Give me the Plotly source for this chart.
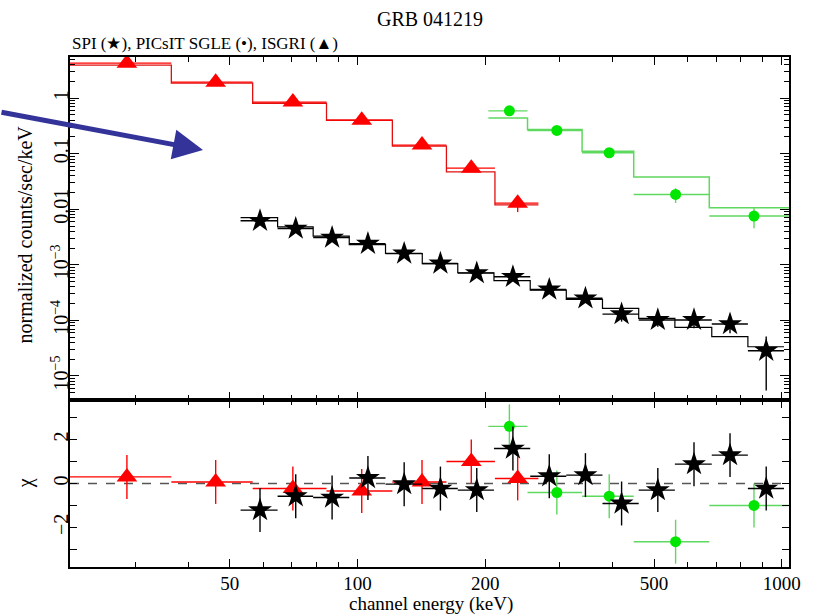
import numpy as np
import plotly.graph_objects as go
from plotly.subplots import make_subplots

# ---- ISGRI (triangles) ----
isgri_lo = [20.0, 36.4, 56.6, 84.5, 120.8, 162.0, 210.8]
isgri_hi = [36.4, 56.6, 84.5, 120.8, 162.0, 210.8, 266.9]
isgri_e = [28.6, 46.3, 70.4, 102.3, 141.9, 185.4, 238.5]
isgri_flux = [4.26, 1.94, 0.848, 0.402, 0.143, 0.055, 0.0129]
isgri_err = [0.12, 0.07, 0.04, 0.025, 0.012, 0.008, 0.004]
isgri_model = [3.92, 1.86, 0.81, 0.40, 0.137, 0.047, 0.012]
isgri_chi = [0.3, 0.07, -0.23, -0.34, 0.07, 1.0, 0.23]

# ---- PICsIT SGLE (circles) ----
picsit_lo = [203.4, 251.6, 338.3, 447.7, 674.8]
picsit_hi = [251.6, 338.3, 447.7, 674.8, 1100.0]
picsit_e = [228, 295, 392, 562, 860]
picsit_flux = [0.591, 0.262, 0.104, 0.0185, 0.00755]
picsit_err = [0.059, 0.03, 0.012, 0.0055, 0.003]
picsit_model = [0.437, 0.274, 0.111, 0.0379, 0.0106]
picsit_chi = [2.6, -0.41, -0.58, -2.65, -1.0]

# ---- SPI (stars) ----
spi_edges = [53.0, 64.8, 78.6, 95.6, 116.4, 142.1, 172.3, 209.7, 255.3,
             310.5, 377.9, 460.0, 559.8, 683.9, 832.0, 1012.0]
spi_e = [58.9, 71.5, 87.1, 105.8, 128.8, 156.8, 191, 232.4, 283.1,
         344.5, 419.2, 510.3, 621, 755.1, 919]
spi_flux = [6.2e-3, 4.5e-3, 3.1e-3, 2.4e-3, 1.6e-3, 1.06e-3, 7.1e-4, 6.1e-4,
            3.6e-4, 2.5e-4, 1.3e-4, 1.02e-4, 1.02e-4, 8.6e-5, 2.85e-5]
spi_err = [5.5e-4, 4.5e-4, 3.1e-4, 2.4e-4, 1.8e-4, 1.3e-4, 9e-5, 8e-5,
           5.5e-5, 4.5e-5, 3.5e-5, 2.5e-5, 3e-5, 2.7e-5, 2.3e-5]
spi_model = [7.06e-3, 4.84e-3, 3.30e-3, 2.32e-3, 1.6e-3, 1.05e-3, 7.2e-4, 5.2e-4,
             3.52e-4, 2.4e-4, 1.65e-4, 1.09e-4, 7.5e-5, 5.1e-5, 3.36e-5]
spi_chi = [-1.21, -0.58, -0.64, 0.25, -0.03, -0.23, -0.3, 1.59, 0.33, 0.38,
           -0.91, -0.3, 0.88, 1.29, -0.23]

x_ticks = [50, 100, 200, 500, 1000]
x_minor = [30, 40, 60, 70, 80, 90, 300, 400, 600, 700, 800, 900]
y_ticks = [1e-5, 1e-4, 1e-3, 0.01, 0.1, 1]
y_ticktext = ["10<sup>\u22125</sup>", "10<sup>\u22124</sup>", "10<sup>\u22123</sup>",
              "0.01", "0.1", "1"]

FONT = "Liberation Serif"
FS = 20
RED = "#ff0000"
GREEN = "#00e600"
GREEN_LINE = "#5fd85f"
BLACK = "#000000"

fig = make_subplots(rows=2, cols=1, shared_xaxes=True, vertical_spacing=0,
                    row_heights=[0.6725, 0.3275])


def bins_from(lo, hi, centre):
    lo, hi, c = np.array(lo), np.array(hi), np.array(centre)
    return c - lo, hi - c


def step(edges, model, color, width, row=1):
    fig.add_trace(go.Scatter(x=list(edges), y=list(model) + [model[-1]],
                             mode="lines", line=dict(color=color, width=width, shape="hv"),
                             showlegend=False, hoverinfo="skip"), row=row, col=1)


def points(x, y, xm, xp, ey, symbol, size, mcolor, ecolor, row):
    fig.add_trace(go.Scatter(
        x=x, y=y, mode="markers",
        marker=dict(symbol=symbol, size=size, color=mcolor, line=dict(width=0)),
        error_x=dict(type="data", symmetric=False, array=list(xp), arrayminus=list(xm),
                     color=ecolor, thickness=1.4, width=0),
        error_y=dict(type="data", array=list(ey), color=ecolor, thickness=1.4, width=0),
        showlegend=False), row=row, col=1)


# model histograms
step(isgri_lo + [isgri_hi[-1]], isgri_model, "#e01010", 1.3)
step(picsit_lo + [picsit_hi[-1]], picsit_model, GREEN_LINE, 1.5)
step(spi_edges, spi_model, BLACK, 1.2)

isgri_xm, isgri_xp = bins_from(isgri_lo, isgri_hi, isgri_e)
picsit_xm, picsit_xp = bins_from(picsit_lo, picsit_hi, picsit_e)
spi_xm, spi_xp = bins_from(spi_edges[:-1], spi_edges[1:], spi_e)

# spectra
points(isgri_e, isgri_flux, isgri_xm, isgri_xp, isgri_err, "triangle-up", 18, RED, RED, 1)
points(picsit_e, picsit_flux, picsit_xm, picsit_xp, picsit_err, "circle", 11, GREEN, GREEN_LINE, 1)
points(spi_e, spi_flux, spi_xm, spi_xp, spi_err, "star", 18, BLACK, BLACK, 1)

# residuals
fig.add_trace(go.Scatter(x=[21, 1040], y=[0, 0], mode="lines",
                         line=dict(color="#555555", width=1.3, dash="dash"),
                         showlegend=False, hoverinfo="skip"), row=2, col=1)
points(isgri_e, isgri_chi, isgri_xm, isgri_xp, [1] * len(isgri_e), "triangle-up", 18, RED, RED, 2)
points(picsit_e, picsit_chi, picsit_xm, picsit_xp, [1] * len(picsit_e), "circle", 11, GREEN, GREEN_LINE, 2)
points(spi_e, spi_chi, spi_xm, spi_xp, [1] * len(spi_e), "star", 18, BLACK, BLACK, 2)

axis_common = dict(showline=True, linecolor="black", linewidth=1.5, mirror="allticks",
                   ticks="inside", tickcolor="black", tickwidth=1, showgrid=False,
                   zeroline=False)

x_range = [np.log10(21.0), np.log10(1040.0)]
fig.update_xaxes(type="log", range=x_range, tickvals=x_ticks, ticktext=[str(v) for v in x_ticks],
                 ticklen=8, ticklabelstandoff=-2,
                 tickfont=dict(family=FONT, size=19, color="black"),
                 minor=dict(tickvals=x_minor, ticklen=5, ticks="inside", tickcolor="black"),
                 **axis_common)
fig.update_xaxes(showticklabels=False, row=1, col=1)

y_minor = [k * 10.0 ** d for d in range(-6, 1) for k in range(2, 10)]
fig.update_yaxes(type="log", range=[np.log10(3.7e-6), np.log10(5.5)], tickvals=y_ticks,
                 ticktext=y_ticktext, tickangle=-90, ticklen=9, ticklabelstandoff=-8,
                 tickfont=dict(family=FONT, size=FS, color="black"),
                 minor=dict(tickvals=y_minor, ticklen=5, ticks="inside", tickcolor="black"),
                 row=1, col=1, **axis_common)
fig.update_yaxes(range=[-3.8, 3.8], tickvals=[-2, 0, 2], ticktext=["\u22122", "0", "2"],
                 tickangle=-90, ticklen=7, ticklabelstandoff=-8,
                 tickfont=dict(family=FONT, size=FS, color="black"),
                 minor=dict(tickvals=[-3, -1, 1, 3], ticklen=7, ticks="inside", tickcolor="black"),
                 row=2, col=1, **axis_common)

txt = dict(family=FONT, size=FS, color="black")
fig.update_layout(
    width=813, height=615,
    margin=dict(l=70, r=14, t=57, b=48),
    paper_bgcolor="white", plot_bgcolor="white",
    font=txt,
)
fig.add_annotation(text="GRB 041219", xref="paper", yref="paper", x=0.501, y=1.075,
                   xanchor="center", yanchor="middle", showarrow=False, font=txt)
fig.add_annotation(text="SPI (\u2605), PICsIT SGLE (\u2022), ISGRI (\u25b2)", xref="paper",
                   yref="paper", x=0.0, y=1.027, xanchor="left", yanchor="middle",
                   showarrow=False, font=dict(family=FONT, size=17, color="black"))
fig.add_annotation(text="normalized counts/sec/keV", xref="paper", yref="paper",
                   x=-0.062, y=0.653, textangle=-90, xanchor="center", yanchor="middle",
                   showarrow=False, font=dict(family=FONT, size=20, color="black"))
fig.add_annotation(text="\u03c7", xref="paper", yref="paper", x=-0.062, y=0.165,
                   textangle=-90, xanchor="center", yanchor="middle", showarrow=False,
                   font=txt)
fig.add_annotation(text="channel energy (keV)", xref="paper", yref="paper", x=0.502,
                   y=-0.073, xanchor="center", yanchor="middle", showarrow=False,
                   font=dict(family=FONT, size=19, color="black"))
# pointer arrow
fig.add_annotation(text="", xref="paper", yref="paper", x=0.185, y=0.8176,
                   ax=-210, ay=-38, showarrow=True, arrowhead=2, arrowsize=1.2,
                   arrowwidth=5, arrowcolor="#333399")

fig.write_html("out.html")
